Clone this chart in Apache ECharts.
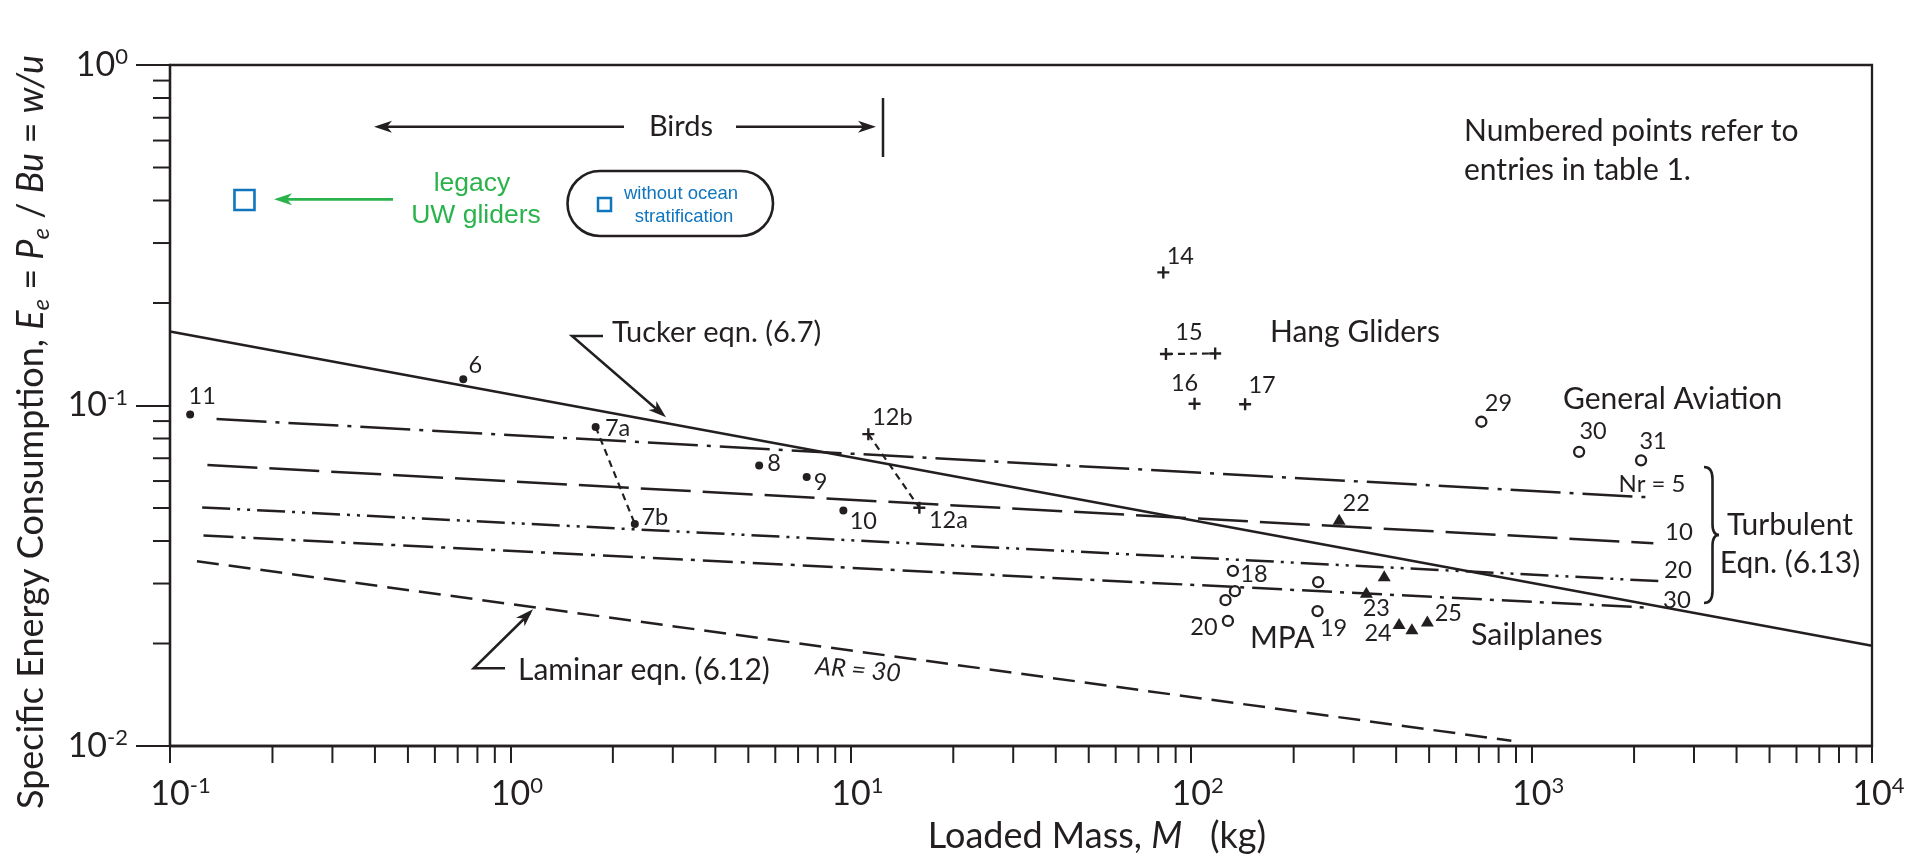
<!DOCTYPE html>
<html><head><meta charset="utf-8">
<script src="https://cdn.jsdelivr.net/npm/echarts@6/dist/echarts.min.js"></script>
<style>html,body{margin:0;padding:0;background:#fff}#c{width:1921px;height:855px}</style>
</head><body><div id="c"></div><script>
const INK = '#231f20', BLUE = '#0f75bc', GREEN = '#2bb34b', FONT = 'Lato', FONT2 = 'Liberation Sans';

// ---- data ----
// birds: filled dots
const birdLabels = ['6', '7a', '7b', '8', '9', '10', '11'];
const birdMass   = [0.727, 1.78, 2.32, 5.38, 7.42, 9.51, 0.1146];
const birdEnergy = [0.1194, 0.0865, 0.0449, 0.0666, 0.0617, 0.0492, 0.0941];
// crosses (12a/12b, hang gliders)
const plusLabels = ['12b', '12a', '14', '15', '', '16', '17'];
const plusMass   = [11.26, 15.9, 82.8, 84.3, 117.6, 102.3, 144];
const plusEnergy = [0.0824, 0.0501, 0.246, 0.1416, 0.1422, 0.1012, 0.1008];
// open circles (MPA, general aviation)
const circleLabels = ['18', '', '', '20', '', '19', '29', '30', '31'];
const circleMass   = [132.6, 134.4, 126.1, 128.2, 236, 235, 712, 1379, 2097];
const circleEnergy = [0.0327, 0.0285, 0.0268, 0.0233, 0.0303, 0.0249, 0.0896, 0.0731, 0.069];
// filled triangles (sailplanes)
const triLabels = ['22', '', '23', '24', '', '25'];
const triMass   = [272, 369, 327, 408, 445, 494];
const triEnergy = [0.0463, 0.0316, 0.0283, 0.0229, 0.0221, 0.0233];
// legacy UW gliders
const legacyMass = [0.1655];
const legacyEnergy = [0.4014];
// model lines
const tuckerMass = [0.1, 10000];
const tuckerEnergy = [0.165, 0.0197];
const laminarMass = [0.12, 872];
const laminarEnergy = [0.0349, 0.01036];
const turbNr = ['5', '10', '20', '30'];
const turbStartMass   = [0.137, 0.1288, 0.1243, 0.1254];
const turbStartEnergy = [0.0913, 0.0669, 0.0502, 0.0415];
const turbEndMass     = [2253, 2279, 2367, 2188];
const turbEndEnergy   = [0.0537, 0.0394, 0.0305, 0.0255];
// axis tick labels (exponents of 10)
const xTickExponents = ['-1', '0', '1', '2', '3', '4'];
const yTickExponents = ['-2', '-1', '0'];
const minorMultipliers = [2, 3, 4, 5, 6, 7, 8, 9];

// ---- styles ----
const labelOffsets = {
  '6': [12, -14], '11': [12, -18], '7a': [22, 1], '7b': [20, -6], '8': [15, -2], '9': [14, 6], '10': [20, 11],
  '12b': [24, -17], '12a': [29, 13], '14': [17, -16], '15': [23, -22], '16': [-10, -20], '17': [17, -19],
  '18': [21, 4], '20': [-24, 7], '19': [16, 17], '29': [17, -18], '30': [14, -20], '31': [12, -19],
  '22': [17, -16], '23': [10, 16], '24': [-21, 10], '25': [21, -7]
};
const turbDash = [[50, 9, 4, 9], [50, 12], [28, 7, 3, 7, 3, 7], [30, 8, 4, 8]];
const LW = 2.5;

function points(masses, energies, labels) {
  return masses.map((m, i) => {
    const lab = labels ? labels[i] : '';
    return {
      value: [m, energies[i]], name: lab,
      label: lab ? { show: true, offset: labelOffsets[lab] } : { show: false }
    };
  });
}
const numLabel = {
  show: true, position: 'inside', formatter: p => p.name, color: INK,
  fontFamily: FONT, fontSize: 23.5, align: 'center', verticalAlign: 'middle'
};

const minorX = [], minorY = [];
xTickExponents.slice(0, -1).forEach(e => minorMultipliers.forEach(k => minorX.push(k * Math.pow(10, +e))));
yTickExponents.slice(0, -1).forEach(e => minorMultipliers.forEach(k => minorY.push(k * Math.pow(10, +e))));

const chart = echarts.init(document.getElementById('c'));

const series = [];
series.push({
  type: 'line', data: tuckerMass.map((m, i) => [m, tuckerEnergy[i]]), symbol: 'none',
  lineStyle: { color: INK, width: LW }, z: 2
});
series.push({
  type: 'line', data: laminarMass.map((m, i) => [m, laminarEnergy[i]]), symbol: 'none',
  lineStyle: { color: INK, width: LW, type: [22, 10] }, z: 2
});
turbNr.forEach((nr, i) => {
  series.push({
    type: 'line', name: 'Nr=' + nr,
    data: [[turbStartMass[i], turbStartEnergy[i]], [turbEndMass[i], turbEndEnergy[i]]],
    symbol: 'none', lineStyle: { color: INK, width: LW, type: turbDash[i] }, z: 2
  });
});
// dashed connectors
[[birdMass, birdEnergy, 1, 2], [plusMass, plusEnergy, 0, 1], [plusMass, plusEnergy, 3, 4]].forEach(([ms, es, a, b]) => {
  series.push({
    type: 'line', data: [[ms[a], es[a]], [ms[b], es[b]]], symbol: 'none',
    lineStyle: { color: INK, width: 2.2, type: [7, 5] }, z: 3
  });
});
series.push({
  type: 'scatter', data: points(birdMass, birdEnergy, birdLabels), symbol: 'circle', symbolSize: 8,
  itemStyle: { color: INK, opacity: 1 }, label: numLabel, z: 5
});
series.push({
  type: 'scatter', data: points(plusMass, plusEnergy, plusLabels),
  symbol: 'path://M4,0H6V4H10V6H6V10H4V6H0V4H4Z', symbolSize: 12,
  itemStyle: { color: INK, opacity: 1 }, label: numLabel, z: 5
});
series.push({
  type: 'scatter', data: points(circleMass, circleEnergy, circleLabels), symbol: 'circle', symbolSize: 10,
  itemStyle: { color: '#fff', borderColor: INK, borderWidth: 2.3, opacity: 1 }, label: numLabel, z: 5
});
series.push({
  type: 'scatter', data: points(triMass, triEnergy, triLabels), symbol: 'triangle', symbolSize: [13, 11],
  itemStyle: { color: INK, opacity: 1 }, label: numLabel, z: 5
});
series.push({
  type: 'scatter', data: legacyMass.map((m, i) => [m, legacyEnergy[i]]), symbol: 'rect', symbolSize: 20,
  itemStyle: { color: 'rgba(255,255,255,0)', borderColor: BLUE, borderWidth: 2.6, opacity: 1 }, z: 5
});
// minor ticks
series.push({
  type: 'custom', clip: false, silent: true, z: 6,
  data: minorX.map(v => [v, 0.01]),
  renderItem: (params, api) => {
    const p = api.coord([api.value(0), api.value(1)]);
    return { type: 'line', shape: { x1: p[0], y1: p[1], x2: p[0], y2: p[1] + 17 }, style: { stroke: INK, lineWidth: 2 } };
  }
});
series.push({
  type: 'custom', clip: false, silent: true, z: 6,
  data: minorY.map(v => [0.1, v]),
  renderItem: (params, api) => {
    const p = api.coord([api.value(0), api.value(1)]);
    return { type: 'line', shape: { x1: p[0] - 17, y1: p[1], x2: p[0], y2: p[1] }, style: { stroke: INK, lineWidth: 2 } };
  }
});

const tickRich = {
  b: { fontSize: 34, lineHeight: 38, fontFamily: FONT, color: INK },
  s: { fontSize: 22, lineHeight: 23, verticalAlign: 'top', fontFamily: FONT, color: INK },
  pn: { width: 21, fontSize: 10 },
  pp: { width: 13, fontSize: 10 }
};
function expOf(v) { return String(Math.round(Math.log10(v))); }

// ---- annotation helpers ----
function txt(text, x, y, size, opts) {
  opts = opts || {};
  return {
    type: 'text', x: x, y: y, rotation: opts.rotation || 0, z: 50,
    style: {
      text: text, fill: opts.color || INK, font: (opts.italic ? 'italic ' : '') + size + 'px ' + (opts.family || FONT),
      align: opts.align || 'left', verticalAlign: 'middle', rich: opts.rich
    }
  };
}
function seg(x1, y1, x2, y2, color, w) {
  return { type: 'line', z: 50, shape: { x1, y1, x2, y2 }, style: { stroke: color || INK, lineWidth: w || LW } };
}
function poly(pts, color, w) {
  return { type: 'polyline', z: 50, shape: { points: pts }, style: { stroke: color || INK, lineWidth: w || LW, fill: null } };
}
function head(tx, ty, fx, fy, color, len, hw) {
  len = len || 18; hw = hw || 6;
  const dx = tx - fx, dy = ty - fy, d = Math.hypot(dx, dy), ux = dx / d, uy = dy / d;
  const bx = tx - ux * len, by = ty - uy * len, nx = -uy, ny = ux;
  const mx = tx - ux * (len - 5), my = ty - uy * (len - 5);
  return { type: 'polygon', z: 51, shape: { points: [[tx, ty], [bx + nx * hw, by + ny * hw], [mx, my], [bx - nx * hw, by - ny * hw]] }, style: { fill: color || INK } };
}
function bez(x1, y1, c1x, c1y, c2x, c2y, x2, y2) {
  return { type: 'bezierCurve', z: 50, shape: { x1, y1, cpx1: c1x, cpy1: c1y, cpx2: c2x, cpy2: c2y, x2, y2 }, style: { stroke: INK, lineWidth: 2.6, fill: null } };
}

const graphics = [
  // Birds range
  seg(380, 126.7, 624, 126.7), head(374, 126.7, 400, 126.7),
  seg(736, 126.7, 870, 126.7), head(876, 126.7, 850, 126.7),
  seg(883, 98, 883, 157),
  txt('Birds', 681, 126.7, 29, { align: 'center' }),
  // legacy gliders
  seg(282, 199.3, 393, 199.3, GREEN, 2.8), head(274, 199.3, 300, 199.3, GREEN),
  txt('legacy', 472, 184, 26.5, { align: 'center', color: GREEN, family: FONT2 }),
  txt('UW gliders', 476, 216, 26.5, { align: 'center', color: GREEN, family: FONT2 }),
  { type: 'rect', z: 50, shape: { x: 567.5, y: 171, width: 205.5, height: 65, r: 32.5 }, style: { fill: null, stroke: INK, lineWidth: 2.6 } },
  { type: 'rect', z: 50, shape: { x: 598, y: 198, width: 13, height: 13 }, style: { fill: null, stroke: BLUE, lineWidth: 2.5 } },
  txt('without ocean', 681, 194, 18.5, { align: 'center', color: BLUE, family: FONT2 }),
  txt('stratification', 684, 217, 18.5, { align: 'center', color: BLUE, family: FONT2 }),
  // note
  txt('Numbered points refer to', 1464, 131.7, 30),
  txt('entries in table 1.', 1464, 170, 30),
  // Tucker
  txt('Tucker eqn. (6.7)', 612, 333, 29),
  poly([[603, 336], [572, 336], [661, 413]]), head(666, 417.3, 572, 336),
  // Laminar
  txt('Laminar eqn. (6.12)', 518, 670, 30),
  poly([[505, 668.3], [473.7, 668.3], [530, 613]]), head(533, 609.3, 473.7, 668.3),
  txt('AR = 30', 858, 670, 25, { align: 'center', italic: true, rotation: -0.09 }),
  // groups
  txt('Hang Gliders', 1270, 332, 30),
  txt('General Aviation', 1563, 399, 30),
  txt('MPA', 1250, 638, 30),
  txt('Sailplanes', 1471, 635, 30.5),
  // turbulent labels
  txt('Nr = 5', 1652, 484, 24, { align: 'center' }),
  txt('10', 1679, 532, 24, { align: 'center' }),
  txt('20', 1678, 570, 24, { align: 'center' }),
  txt('30', 1677, 600, 24, { align: 'center' }),
  bez(1704, 467, 1710, 467, 1712.5, 471, 1712.5, 479),
  seg(1712.5, 479, 1712.5, 524, INK, 2.6),
  bez(1712.5, 524, 1712.5, 531, 1714, 535, 1719, 535),
  bez(1719, 535, 1714, 535, 1712.5, 539, 1712.5, 546),
  seg(1712.5, 546, 1712.5, 591, INK, 2.6),
  bez(1712.5, 591, 1712.5, 599, 1710, 603, 1704, 603),
  txt('Turbulent', 1790, 525, 30, { align: 'center' }),
  txt('Eqn. (6.13)', 1790, 563, 30, { align: 'center' }),
  // axis titles
  txt('{n|Loaded Mass, }{i|M}{n|   (kg)}', 1097, 836, 36, {
    align: 'center',
    rich: { n: { fontSize: 36, fontFamily: FONT, color: INK }, i: { fontSize: 36, fontFamily: FONT, fontStyle: 'italic', color: INK } }
  }),
  txt('{n|Specific Energy Consumption, }{i|E}{sub|e}{n| = }{i|P}{sub|e}{n| / }{i|Bu}{n| = }{i|w/u}', 31, 432, 36, {
    align: 'center', rotation: Math.PI / 2,
    rich: {
      n: { fontSize: 36, lineHeight: 44, fontFamily: FONT, color: INK },
      i: { fontSize: 36, lineHeight: 44, fontFamily: FONT, fontStyle: 'italic', color: INK },
      sub: { fontSize: 24, lineHeight: 24, verticalAlign: 'bottom', fontFamily: FONT, fontStyle: 'italic', color: INK }
    }
  })
];

chart.setOption({
  animation: false,
  backgroundColor: '#fff',
  grid: { left: 170, right: 49, top: 65, bottom: 109, show: true, borderColor: INK, borderWidth: 2.3, backgroundColor: 'transparent' },
  xAxis: {
    type: 'log', logBase: 10, min: 0.1, max: 10000,
    axisLine: { show: true, lineStyle: { color: INK, width: 2.3 } },
    axisTick: { show: true, length: 17, lineStyle: { color: INK, width: 2 } },
    splitLine: { show: false },
    axisLabel: {
      margin: 29, color: INK, fontFamily: FONT,
      formatter: v => {
        const e = expOf(v);
        const i = xTickExponents.indexOf(e);
        const s = i >= 0 ? xTickExponents[i] : e;
        return (s.charAt(0) === '-' ? '{pn| }' : '{pp| }') + '{b|10}{s|' + s + '}';
      },
      rich: tickRich
    }
  },
  yAxis: {
    type: 'log', logBase: 10, min: 0.01, max: 1,
    axisLine: { show: true, lineStyle: { color: INK, width: 2.3 } },
    axisTick: { show: true, length: 34, lineStyle: { color: INK, width: 2 } },
    splitLine: { show: false },
    axisLabel: {
      margin: 42, color: INK, fontFamily: FONT,
      formatter: v => {
        const e = expOf(v);
        const i = yTickExponents.indexOf(e);
        return '{b|10}{s|' + (i >= 0 ? yTickExponents[i] : e) + '}';
      },
      rich: tickRich
    }
  },
  series: series,
  graphic: graphics
});
</script></body></html>
